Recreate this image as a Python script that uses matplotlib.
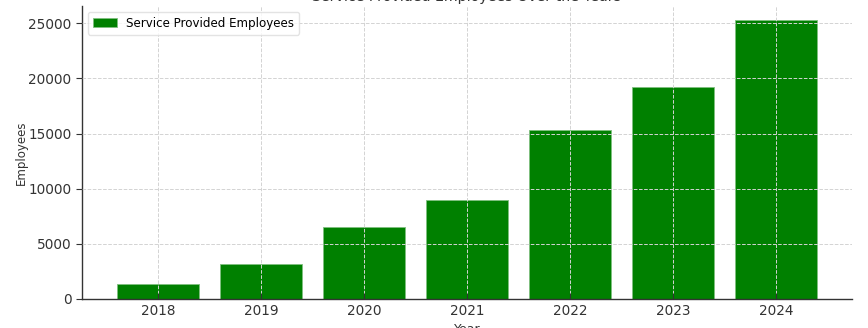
import matplotlib.pyplot as plt

# data
years = ["2018", "2019", "2020", "2021", "2022", "2023", "2024"]
employees = [1400, 3200, 6500, 9000, 15300, 19200, 25300]

fig = plt.figure(figsize=(8.68, 3.28), dpi=100)
ax = fig.add_axes([82 / 868, 29 / 328, 770 / 868, 293 / 328])

ax.bar(years, employees, color="green", width=0.8,
       edgecolor="#7fbf7f", linewidth=0.6, label="Service Provided Employees")

ax.set_title("Service Provided Employees Over the Years", fontsize=10.2,
             color="#333333", pad=3.7)
ax.set_xlabel("Year", fontsize=9, color="#333333")
ax.set_ylabel("Employees", fontsize=8.5, color="#333333", labelpad=0.5)

ax.grid(True, linestyle="--", color="#d3d3d3", linewidth=0.7)
ax.set_axisbelow(False)

for s in ["top", "right"]:
    ax.spines[s].set_visible(False)
for s in ["left", "bottom"]:
    ax.spines[s].set_color("#333333")
    ax.spines[s].set_linewidth(1.0)

ax.tick_params(axis="x", direction="in", labelsize=9.8, colors="#333333", length=4)
ax.tick_params(axis="y", direction="out", labelsize=9.8, colors="#333333", length=4)

leg = ax.legend(loc="upper left", fontsize=8.6, frameon=True)
leg.get_frame().set_edgecolor("#dddddd")

fig.savefig("out.png", dpi=100)
